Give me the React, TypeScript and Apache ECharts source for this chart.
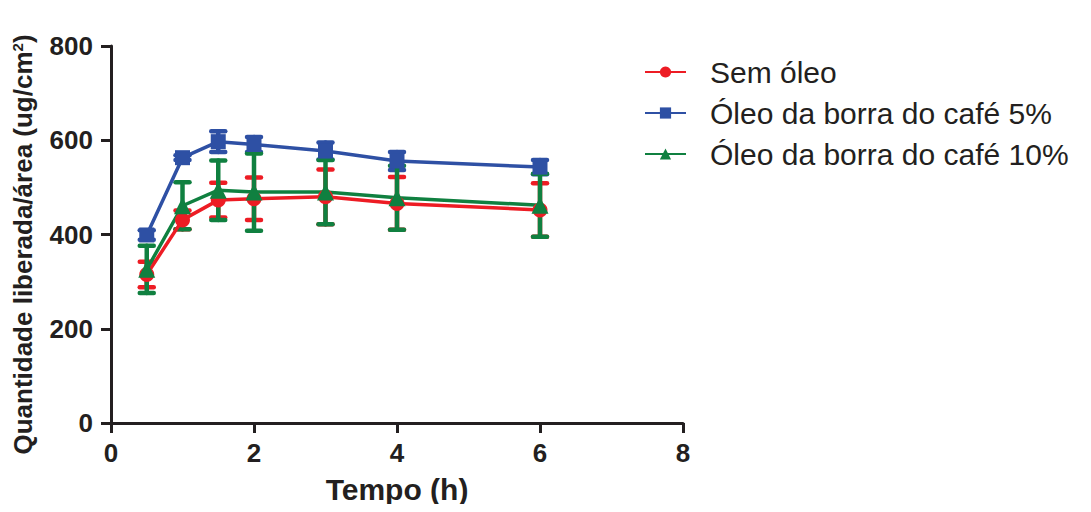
import React, { useEffect, useRef } from "react";
import * as echarts from "echarts";

const times = [0.5, 1, 1.5, 2, 3, 4, 6];
const semOleo = [315, 431, 473, 476, 480, 466, 452];
const semOleoErr = [27, 20, 37, 45, 58, 56, 57];
const oleo5 = [399, 563, 597, 591, 577, 556, 543];
const oleo5Err = [10, 5, 22, 16, 18, 19, 15];
const oleo10 = [326, 461, 494, 490, 490, 478, 462];
const oleo10Err = [50, 50, 63, 82, 68, 68, 67];

const xTicks = [0, 2, 4, 6, 8];
const yTicks = [0, 200, 400, 600, 800];

const seriesNames = ["Sem óleo", "Óleo da borra do café 5%", "Óleo da borra do café 10%"];
const colors = ["#ED1C24", "#2E50A4", "#108040"];
const symbols = ["circle", "rect", "triangle"];

const FONT = "Liberation Sans, Arial, sans-serif";
const INK = "#231F20";

function errSeries(vals: number[], errs: number[], color: string) {
  return {
    type: "custom",
    silent: true,
    data: times.map((t, i) => [t, vals[i] - errs[i], vals[i] + errs[i]]),
    renderItem: (params: any, api: any) => {
      const x = api.value(0);
      const lo = api.coord([x, api.value(1)]);
      const hi = api.coord([x, api.value(2)]);
      const hw = 7;
      const style = { stroke: color, lineWidth: 4.5, lineCap: "round" };
      return {
        type: "group",
        children: [
          { type: "line", shape: { x1: lo[0], y1: lo[1], x2: hi[0], y2: hi[1] }, style },
          { type: "line", shape: { x1: lo[0] - hw, y1: lo[1], x2: lo[0] + hw, y2: lo[1] }, style },
          { type: "line", shape: { x1: hi[0] - hw, y1: hi[1], x2: hi[0] + hw, y2: hi[1] }, style },
        ],
      };
    },
  };
}

function lineSeries(name: string, vals: number[], color: string, symbol: string) {
  return {
    type: "line",
    name,
    data: times.map((t, i) => [t, vals[i]]),
    symbol,
    symbolSize: symbol === "triangle" ? 17 : 15,
    lineStyle: { color, width: 3.5 },
    itemStyle: { color },
  };
}

export default function App() {
  const ref = useRef<HTMLDivElement>(null);
  useEffect(() => {
    if (!ref.current) return;
    const chart = echarts.init(ref.current, null, { renderer: "svg" });
    const axisCommon = {
      axisLine: { lineStyle: { color: INK, width: 3 } },
      axisTick: { lineStyle: { color: INK, width: 3 }, length: 10 },
      splitLine: { show: false },
    };
    const labelStyle = {
      fontFamily: FONT,
      fontSize: 26,
      fontWeight: "bold",
      color: INK,
    };
    chart.setOption({
      animation: false,
      grid: { left: 103, right: 400, top: 38, bottom: 81, outerBoundsMode: "none", containLabel: false },
      legend: {
        orient: "vertical",
        left: 631,
        top: 44,
        itemWidth: 41,
        itemHeight: 14,
        itemGap: 11,
        data: seriesNames,
        textStyle: { fontFamily: FONT, fontSize: 30, color: INK, padding: [0, 0, 0, 19] },
      },
      xAxis: {
        type: "value",
        min: 0,
        max: 8,
        interval: 2,
        ...axisCommon,
        axisLabel: {
          ...labelStyle,
          margin: 17,
          formatter: (v: number) => (xTicks.includes(v) ? String(v) : ""),
        },
        name: "Tempo (h)",
        nameLocation: "middle",
        nameGap: 51,
        nameTextStyle: { fontFamily: FONT, fontSize: 30, fontWeight: "bold", color: INK },
      },
      yAxis: {
        type: "value",
        min: 0,
        max: 800,
        interval: 200,
        ...axisCommon,
        axisLabel: {
          ...labelStyle,
          margin: 18,
          formatter: (v: number) => (yTicks.includes(v) ? String(v) : ""),
        },
        name: "{a|Quantidade liberada/área (ug/cm}{s|2}{a|)}",
        nameLocation: "middle",
        nameGap: 75,
        nameTextStyle: {
          fontFamily: FONT,
          fontWeight: "bold",
          color: INK,
          padding: [0, 20, 0, 0],
          rich: {
            a: { fontFamily: FONT, fontSize: 26, lineHeight: 26, fontWeight: "bold", color: INK },
            s: { fontFamily: FONT, fontSize: 15, lineHeight: 15, verticalAlign: "top", fontWeight: "bold", color: INK },
          },
        },
      },
      series: [
        errSeries(semOleo, semOleoErr, colors[0]),
        lineSeries(seriesNames[0], semOleo, colors[0], symbols[0]),
        errSeries(oleo5, oleo5Err, colors[1]),
        lineSeries(seriesNames[1], oleo5, colors[1], symbols[1]),
        errSeries(oleo10, oleo10Err, colors[2]),
        lineSeries(seriesNames[2], oleo10, colors[2], symbols[2]),
      ],
    });
    return () => chart.dispose();
  }, []);
  return <div ref={ref} style={{ width: 1075, height: 496 }} />;
}
